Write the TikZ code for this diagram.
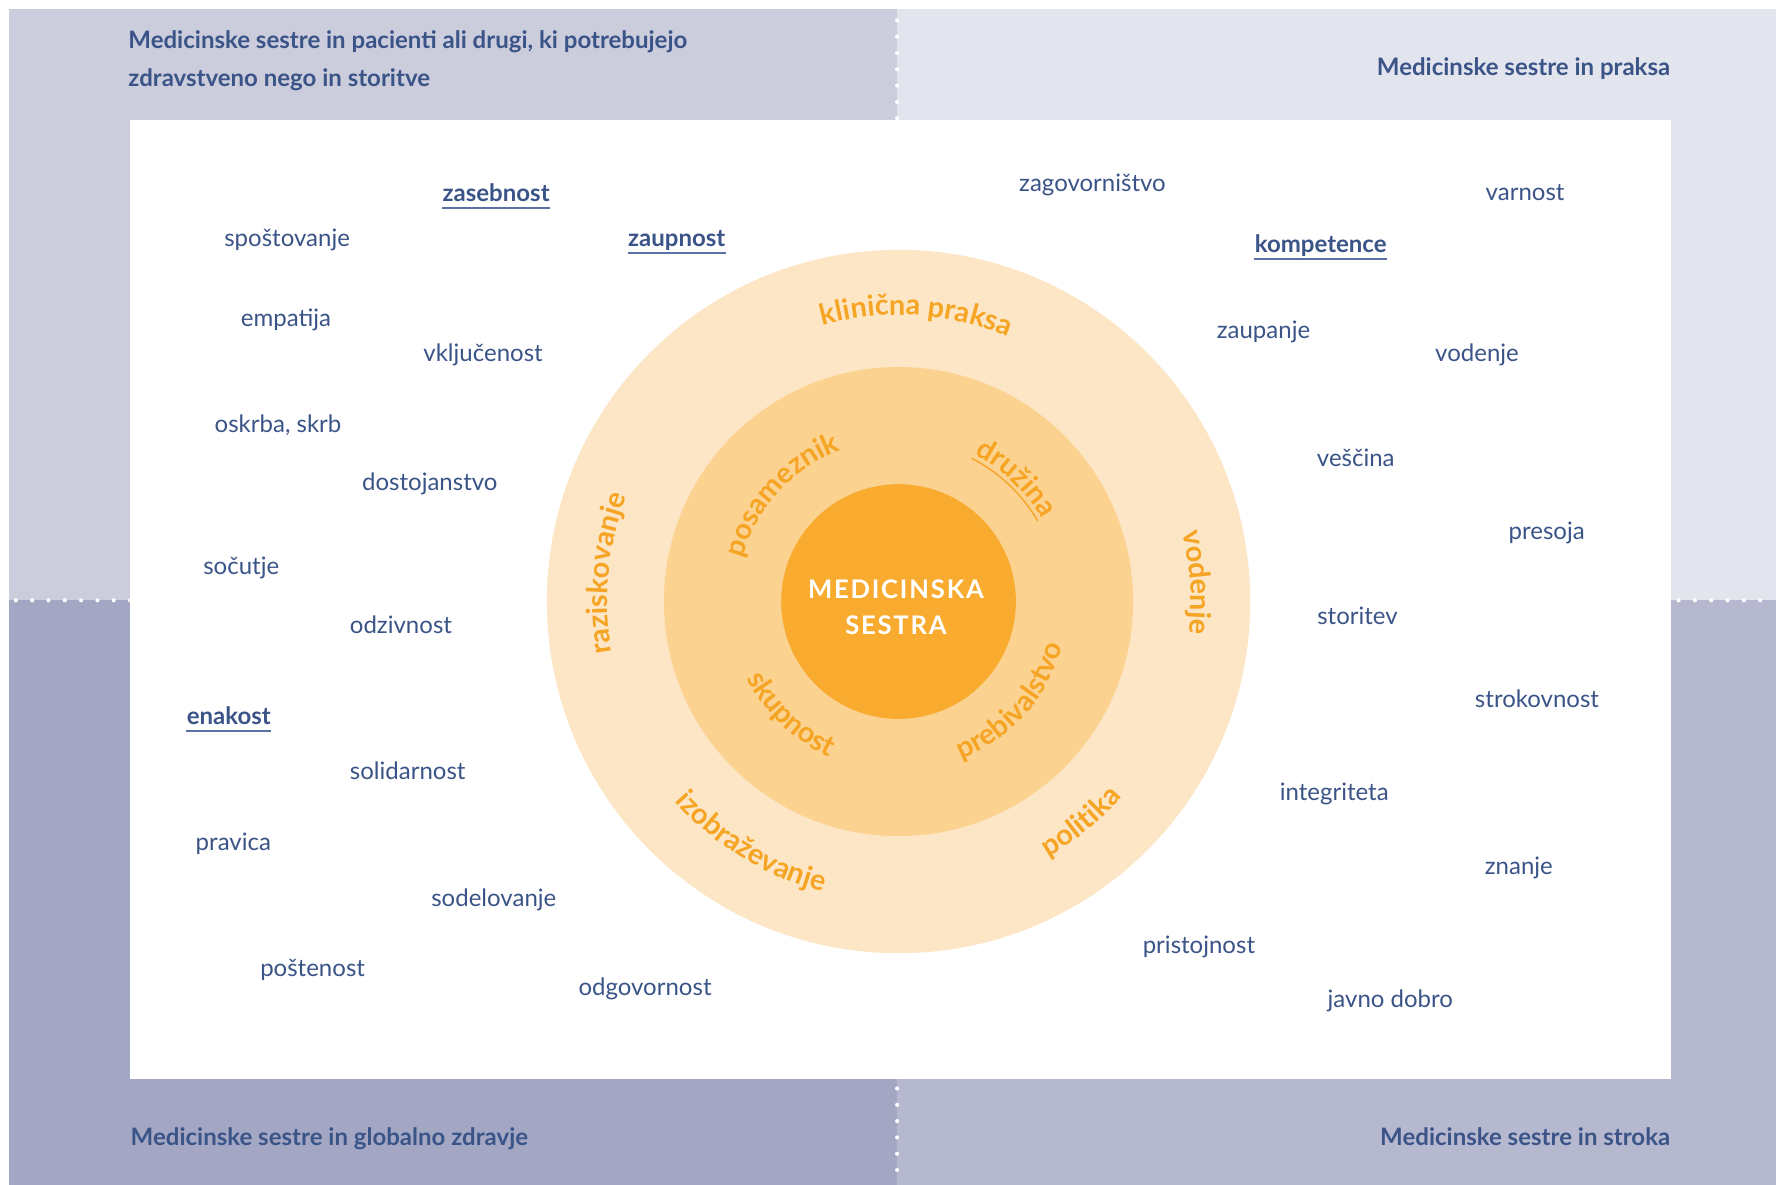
\documentclass[tikz,border=0pt]{standalone}
\usepackage{fontspec}
\setmainfont{Lato}
\usetikzlibrary{decorations.text}
\definecolor{bandTL}{HTML}{CBCDDD}
\definecolor{bandTR}{HTML}{E2E5EE}
\definecolor{bandBL}{HTML}{A3A7C4}
\definecolor{bandBR}{HTML}{B6B8D0}
\definecolor{wordc}{HTML}{3B5488}
\definecolor{ulc}{HTML}{5A6FA3}
\definecolor{ringA}{HTML}{FDE6C5}
\definecolor{ringB}{HTML}{FCD291}
\definecolor{ringC}{HTML}{F9AB2F}
\definecolor{labc}{HTML}{F6A423}
\newcommand\labfont{\fontsize{12.7}{14}\selectfont\bfseries\color{labc}}
\begin{document}
\begin{tikzpicture}[x=0.5pt,y=0.5pt,
  wordtxt/.style={inner sep=0pt, anchor=mid, text=wordc, font=\fontsize{10.6}{12}\selectfont},
  keytxt/.style={inner sep=0pt, anchor=mid, text=wordc, font=\fontsize{10.6}{12}\selectfont\bfseries},
  headtxt/.style={inner sep=0pt, text=wordc, font=\fontsize{10.6}{12}\selectfont\bfseries},
  uline/.style={draw=ulc, line width=0.75pt},
  dotline/.style={draw=white, line width=1.8pt, line cap=round, dash pattern=on 0pt off 7.2pt},
  ringtext/.style={decorate, decoration={text along path, text align=center, text={|\labfont|#1}}}]
\useasboundingbox (0,0) rectangle (1568,1046);
% bands
\fill[bandTL] (8,516) rectangle (792,1038);
\fill[bandTR] (792,516) rectangle (1568,1038);
\fill[bandBL] (8,0) rectangle (792,516);
\fill[bandBR] (792,0) rectangle (1568,516);
\fill[white] (115,93) rectangle (1475,940);
% dotted separators
\coordinate (vt1) at (792,1028);
\coordinate (vt2) at (792,940);
\coordinate (vb1) at (792,85);
\coordinate (vb2) at (792,0);
\coordinate (hl1) at (14,516);
\coordinate (hl2) at (115,516);
\coordinate (hr1) at (1482,516);
\coordinate (hr2) at (1568,516);
\draw[dotline] (vt1) -- (vt2);
\draw[dotline] (vb1) -- (vb2);
\draw[dotline] (hl1) -- (hl2);
\draw[dotline] (hr1) -- (hr2);
% headers
\node[headtxt, anchor=base west] (h1a) at (113,1003) {Medicinske sestre in pacienti ali drugi, ki potrebujejo};
\node[headtxt, anchor=base west] (h1b) at (113,970) {zdravstveno nego in storitve};
\node[headtxt, anchor=base east] (h2) at (1475,979) {Medicinske sestre in praksa};
\node[headtxt, anchor=base west] (h3) at (115,35) {Medicinske sestre in globalno zdravje};
\node[headtxt, anchor=base east] (h4) at (1475,35) {Medicinske sestre in stroka};
% circles
\coordinate (c) at (793.3,514.9);
\fill[ringA] (c) circle[radius=310.5];
\fill[ringB] (c) circle[radius=207.1];
\fill[ringC] (c) circle[radius=103.6];
\node[inner sep=0pt, text=white, font=\fontsize{11.3}{13}\selectfont\bfseries\addfontfeatures{LetterSpace=7}] (m1) at (791,526) {MEDICINSKA};
\node[inner sep=0pt, text=white, font=\fontsize{11.3}{13}\selectfont\bfseries\addfontfeatures{LetterSpace=7}] (m2) at (791,493.6) {SESTRA};
% ring labels
\begin{scope}[shift={(c)}]
\path[ringtext={klinična praksa}] (125:253) arc[start angle=125, end angle=47.8, radius=253];
\path[ringtext={vodenje}] (45:258) arc[start angle=45, end angle=-37.6, radius=258];
\path[ringtext={raziskovanje}] (224.5:257) arc[start angle=224.5, end angle=124.5, radius=257];
\path[ringtext={politika}] (-90.4:262) arc[start angle=-90.4, end angle=-10.4, radius=262];
\path[ringtext={izobraževanje}] (-170:265) arc[start angle=-170, end angle=-72.8, radius=265];
\path[ringtext={posameznik}] (197.6:143) arc[start angle=197.6, end angle=77.6, radius=143];
\path[ringtext={družina}] (96.3:146) arc[start angle=96.3, end angle=-3.7, radius=146];
\path[ringtext={skupnost}] (-188.6:150) arc[start angle=-188.6, end angle=-78.6, radius=150];
\path[ringtext={prebivalstvo}] (-101.7:150) arc[start angle=-101.7, end angle=18.3, radius=150];
\coordinate (du1) at (63:142);
\draw[labc, line width=0.6pt] (du1) arc[start angle=63, end angle=30, radius=142];
\end{scope}
% left words
\node[keytxt] (w1) at (438,873) {zasebnost};
\node[wordtxt] (w2) at (253.5,833) {spoštovanje};
\node[keytxt] (w3) at (597.5,833) {zaupnost};
\node[wordtxt] (w4) at (252.5,763) {empatija};
\node[wordtxt] (w5) at (426.5,732) {vključenost};
\node[wordtxt] (w6) at (245.5,669) {oskrba, skrb};
\node[wordtxt] (w7) at (379.5,618) {dostojanstvo};
\node[wordtxt] (w8) at (213,544) {sočutje};
\node[wordtxt] (w9) at (354,492) {odzivnost};
\node[keytxt] (w10) at (202,411) {enakost};
\node[wordtxt] (w11) at (360,363) {solidarnost};
\node[wordtxt] (w12) at (206,300) {pravica};
\node[wordtxt] (w13) at (436,251) {sodelovanje};
\node[wordtxt] (w14) at (276,189) {poštenost};
\node[wordtxt] (w15) at (569.5,172) {odgovornost};
% right words
\node[wordtxt] (r1) at (964.5,882) {zagovorništvo};
\node[wordtxt] (r2) at (1346.5,874) {varnost};
\node[keytxt] (r3) at (1166,828) {kompetence};
\node[wordtxt] (r4) at (1115.5,752) {zaupanje};
\node[wordtxt] (r5) at (1304,732) {vodenje};
\node[wordtxt] (r6) at (1197,639) {veščina};
\node[wordtxt] (r7) at (1365.5,575) {presoja};
\node[wordtxt] (r8) at (1198.5,500) {storitev};
\node[wordtxt] (r9) at (1357,426) {strokovnost};
\node[wordtxt] (r10) at (1178,344) {integriteta};
\node[wordtxt] (r11) at (1341,279) {znanje};
\node[wordtxt] (r12) at (1058.5,209) {pristojnost};
\node[wordtxt] (r13) at (1227.5,162) {javno dobro};
% underlines
\foreach \n in {w1,w3,w10,r3}{
  \draw[uline] ([yshift=-2.8pt]\n.base west) -- ([yshift=-2.8pt]\n.base east);
}
\end{tikzpicture}
\end{document}
